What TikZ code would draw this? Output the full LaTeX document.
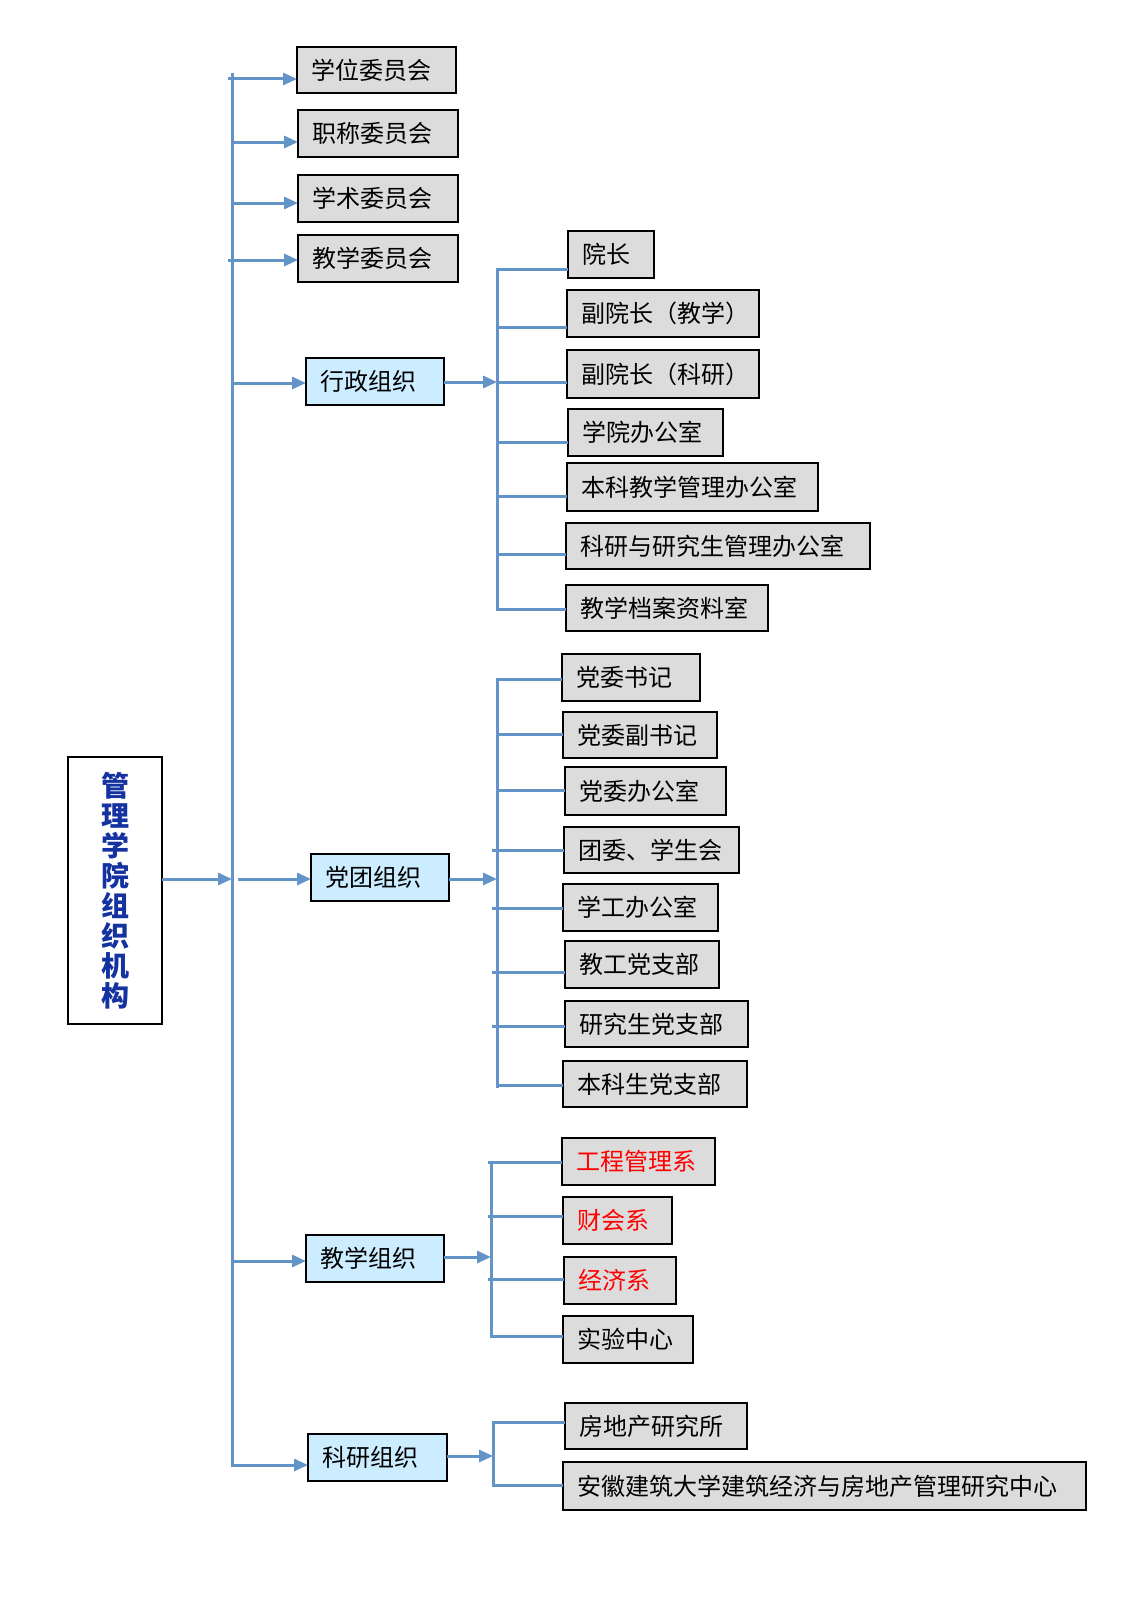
\documentclass[tikz,border=0pt]{standalone}
\usepackage{fontspec}
\setmainfont{Noto Sans CJK SC}
\usetikzlibrary{arrows.meta}
\definecolor{lnblue}{RGB}{98,148,200}
\definecolor{boxgray}{RGB}{220,220,220}
\definecolor{boxblue}{RGB}{204,236,255}
\definecolor{titleblue}{RGB}{20,50,160}
\definecolor{redtxt}{RGB}{255,0,0}
\tikzset{
  gbox/.style={draw=black, line width=2pt, fill=boxgray, inner xsep=14pt, inner ysep=0pt,
    outer sep=0pt, align=left, font=\fontsize{24}{28}\selectfont},
  obox/.style={gbox, fill=boxblue},
  rbox/.style={gbox, text=redtxt},
  conn/.style={draw=lnblue, line width=3pt},
  arr/.style={conn, -{Triangle[length=14pt,width=12pt]}},
}
% style, name, x1, y1, x2, y2, text
\newcommand\myBox[7]{%
  \pgfmathsetmacro\myBW{#5-#3}%
  \pgfmathsetmacro\myBH{#6-#4}%
  \pgfmathsetmacro\myTW{#5-#3-28}%
  \node[#1, anchor=north west, minimum width=\myBW pt, minimum height=\myBH pt,
        text width=\myTW pt] (#2) at (#3,#4) {#7};}
\begin{document}
\begin{tikzpicture}[x=1pt,y=-1pt]
\useasboundingbox (0,0) rectangle (1131,1600);
\fill[white] (0,0) rectangle (1131,1600);

% title
\node[draw=black, line width=2pt, fill=white, anchor=north west, minimum width=94pt,
      minimum height=267pt, inner sep=0pt, outer sep=0pt, align=center,
      text=titleblue, font=\fontsize{28}{30}\selectfont\bfseries] (T) at (68,757)
  {管\\理\\学\\院\\组\\织\\机\\构};

% committees
\myBox{gbox}{c1}{297}{47}{456}{93}{学位委员会}
\myBox{gbox}{c2}{298}{110}{458}{157}{职称委员会}
\myBox{gbox}{c3}{298}{175}{458}{222}{学术委员会}
\myBox{gbox}{c4}{298}{235}{458}{282}{教学委员会}

% organisations
\myBox{obox}{o1}{306}{358}{444}{405}{行政组织}
\myBox{obox}{o2}{311}{854}{449}{901}{党团组织}
\myBox{obox}{o3}{306}{1235}{444}{1282}{教学组织}
\myBox{obox}{o4}{308}{1434}{447}{1481}{科研组织}

% administration
\myBox{gbox}{a1}{568}{231}{654}{278}{院长}
\myBox{gbox}{a2}{567}{290}{759}{337}{副院长（教学）}
\myBox{gbox}{a3}{567}{350}{759}{398}{副院长（科研）}
\myBox{gbox}{a4}{568}{409}{723}{456}{学院办公室}
\myBox{gbox}{a5}{567}{463}{818}{511}{本科教学管理办公室}
\myBox{gbox}{a6}{566}{523}{870}{569}{科研与研究生管理办公室}
\myBox{gbox}{a7}{566}{585}{768}{631}{教学档案资料室}

% party
\myBox{gbox}{p1}{562}{654}{700}{701}{党委书记}
\myBox{gbox}{p2}{563}{712}{717}{758}{党委副书记}
\myBox{gbox}{p3}{565}{767}{726}{815}{党委办公室}
\myBox{gbox}{p4}{564}{827}{739}{873}{团委、学生会}
\myBox{gbox}{p5}{563}{884}{718}{931}{学工办公室}
\myBox{gbox}{p6}{565}{941}{719}{988}{教工党支部}
\myBox{gbox}{p7}{565}{1001}{748}{1047}{研究生党支部}
\myBox{gbox}{p8}{563}{1061}{747}{1107}{本科生党支部}

% teaching
\myBox{rbox}{e1}{562}{1138}{715}{1185}{工程管理系}
\myBox{rbox}{e2}{563}{1197}{672}{1244}{财会系}
\myBox{rbox}{e3}{564}{1257}{676}{1304}{经济系}
\myBox{gbox}{e4}{563}{1316}{693}{1363}{实验中心}

% research
\myBox{gbox}{r1}{565}{1403}{747}{1449}{房地产研究所}
\myBox{gbox}{r2}{563}{1462}{1086}{1510}{安徽建筑大学建筑经济与房地产管理研究中心}

% ---- main bus ----
\coordinate (bt) at (232,73);
\coordinate (bb) at (232,1465);
\draw[arr] (bt) -- (bb) -- (bb -| o4.west);
\coordinate (k1) at (232,79);
\coordinate (k2) at (232,142);
\coordinate (k3) at (232,203);
\coordinate (k4) at (232,260);
\coordinate (k5) at (232,383);
\coordinate (k6) at (232,879);
\coordinate (k7) at (232,1261);
\draw[arr] ([xshift=-4pt]k1) -- (k1 -| c1.west);
\draw[arr] (k2) -- (k2 -| c2.west);
\draw[arr] (k3) -- (k3 -| c3.west);
\draw[arr] ([xshift=-4pt]k4) -- (k4 -| c4.west);
\draw[arr] (k5) -- (k5 -| o1.west);
\draw[arr] (T.east |- k6) -- (k6);
\draw[arr] ([xshift=6pt]k6) -- (k6 -| o2.west);
\draw[arr] (k7) -- (k7 -| o3.west);

% ---- administration group ----
\coordinate (sa) at (497,382);
\draw[arr] (o1.east |- sa) -- (sa);
\coordinate (ya1) at (497,269);
\coordinate (ya2) at (497,327);
\coordinate (ya3) at (497,382);
\coordinate (ya4) at (497,442);
\coordinate (ya5) at (497,496);
\coordinate (ya6) at (497,554);
\coordinate (ya7) at (497,609);
\draw[conn] (ya1 -| a1.west) -- (ya1) -- (ya7) -- (ya7 -| a7.west);
\draw[conn] (ya2) -- (ya2 -| a2.west);
\draw[conn] (ya3) -- (ya3 -| a3.west);
\draw[conn] (ya4) -- (ya4 -| a4.west);
\draw[conn] (ya5) -- (ya5 -| a5.west);
\draw[conn] (ya6) -- (ya6 -| a6.west);

% ---- party group ----
\coordinate (sp) at (497,879);
\draw[arr] (o2.east |- sp) -- (sp);
\coordinate (yp1) at (497,679);
\coordinate (yp2) at (497,734);
\coordinate (yp3) at (497,790);
\coordinate (yp4) at (497,850);
\coordinate (yp5) at (497,908);
\coordinate (yp6) at (497,972);
\coordinate (yp7) at (497,1026);
\coordinate (yp8) at (497,1085);
\coordinate (yp9) at (497,1088);
\draw[conn] (yp1 -| p1.west) -- (yp1) -- (yp9);
\draw[conn] (yp2) -- (yp2 -| p2.west);
\draw[conn] (yp3) -- (yp3 -| p3.west);
\draw[conn] ([xshift=-5pt]yp4) -- (yp4 -| p4.west);
\draw[conn] ([xshift=-5pt]yp5) -- (yp5 -| p5.west);
\draw[conn] ([xshift=-5pt]yp6) -- (yp6 -| p6.west);
\draw[conn] ([xshift=-5pt]yp7) -- (yp7 -| p7.west);
\draw[conn] ([xshift=-1.5pt]yp8) -- (yp8 -| p8.west);

% ---- teaching group ----
\coordinate (se) at (491,1257);
\draw[arr] (o3.east |- se) -- (se);
\coordinate (ye1) at (491,1162);
\coordinate (ye2) at (491,1216);
\coordinate (ye3) at (491,1279);
\coordinate (ye4) at (491,1336);
\draw[conn] (ye1) -- (ye4) -- (ye4 -| e4.west);
\draw[conn] ([xshift=-3pt]ye1) -- (ye1 -| e1.west);
\draw[conn] ([xshift=-3pt]ye2) -- (ye2 -| e2.west);
\draw[conn] ([xshift=-3pt]ye3) -- (ye3 -| e3.west);

% ---- research group ----
\coordinate (sr) at (493,1456);
\draw[arr] (o4.east |- sr) -- (sr);
\coordinate (yr1) at (493,1422);
\coordinate (yr2) at (493,1485);
\draw[conn] (yr1 -| r1.west) -- (yr1) -- (yr2) -- (yr2 -| r2.west);
\end{tikzpicture}
\end{document}
